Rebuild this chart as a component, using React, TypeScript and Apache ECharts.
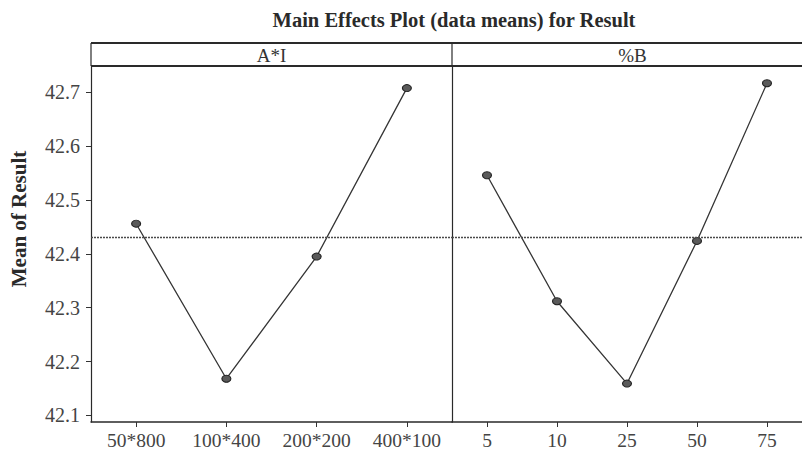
import React, { useEffect, useRef } from "react";
import * as echarts from "echarts";

const catsAI = ["50*800", "100*400", "200*200", "400*100"];
const meansAI = [42.456, 42.168, 42.395, 42.708];
const catsB = ["5", "10", "25", "50", "75"];
const meansB = [42.546, 42.312, 42.159, 42.424, 42.717];
const yTicks = [42.1, 42.2, 42.3, 42.4, 42.5, 42.6, 42.7];
const grandMean = 42.432;
const panelTitles = ["A*I", "%B"];
const chartTitle = "Main Effects Plot (data means) for Result";
const yName = "Mean of Result";

const SERIF = "'Liberation Serif', 'Times New Roman', serif";

export default function App() {
  const ref = useRef<HTMLDivElement>(null);
  useEffect(() => {
    if (!ref.current) return;
    const chart = echarts.init(ref.current, null, { renderer: "svg" });
    const gTop = 66;
    const gBottom = 35;
    const leftL = 91;
    const panelW = 361;
    const leftR = leftL + panelW;
    const stripTop = 43;

    const xAxisCommon = (data: string[], gridIndex: number) => ({
      type: "category",
      gridIndex,
      data,
      boundaryGap: true,
      axisLine: { show: true, lineStyle: { color: "#2a2a2a", width: 1.5 } },
      axisTick: { show: true, alignWithLabel: true, length: 5, lineStyle: { color: "#333" } },
      axisLabel: { color: "#444", fontFamily: SERIF, fontSize: 19.5, margin: 8 },
      splitLine: { show: false },
    });
    const yMin = 42.0876;
    const yMax = 42.749;

    const series = (data: number[], idx: number) => ({
      type: "line",
      xAxisIndex: idx,
      yAxisIndex: idx,
      data,
      symbol: "circle",
      symbolSize: [9, 7],
      itemStyle: { color: "#5a5a5a", borderColor: "#222", borderWidth: 1 },
      lineStyle: { color: "#353535", width: 1.3 },
      markLine: {
        silent: true,
        symbol: "none",
        label: { show: false },
        lineStyle: { color: "#4a4a4a", type: [2, 1], width: 1.3 },
        data: [{ yAxis: grandMean }],
      },
    });

    chart.setOption({
      animation: false,
      backgroundColor: "#ffffff",
      grid: [
        { left: leftL, top: gTop, width: panelW, bottom: gBottom },
        { left: leftR, top: gTop, width: panelW, bottom: gBottom },
      ],
      xAxis: [xAxisCommon(catsAI, 0), xAxisCommon(catsB, 1)],
      yAxis: [
        {
          type: "value",
          gridIndex: 0,
          min: yMin,
          max: yMax,
          axisLine: { show: true, lineStyle: { color: "#2a2a2a", width: 1.2 } },
          axisTick: { show: true, length: 5, customValues: yTicks, lineStyle: { color: "#333" } },
          axisLabel: {
            color: "#444",
            fontFamily: SERIF,
            fontSize: 20,
            margin: 11,
            customValues: yTicks,
            formatter: (v: number) => v.toFixed(1),
          },
          splitLine: { show: false },
        },
        {
          type: "value",
          gridIndex: 1,
          min: yMin,
          max: yMax,
          axisLine: { show: true, lineStyle: { color: "#2a2a2a", width: 1.2 } },
          axisTick: { show: false },
          axisLabel: { show: false },
          splitLine: { show: false },
        },
      ],
      series: [series(meansAI, 0), series(meansB, 1)],
      graphic: [
        {
          type: "text",
          x: 454,
          y: 20,
          style: {
            text: chartTitle,
            font: `bold 20.5px ${SERIF}`,
            fill: "#2a2a2a",
            textAlign: "center",
            textVerticalAlign: "middle",
          },
        },
        {
          type: "text",
          x: 19,
          y: 219,
          rotation: Math.PI / 2,
          style: {
            text: yName,
            font: `bold 21px ${SERIF}`,
            fill: "#2a2a2a",
            textAlign: "center",
            textVerticalAlign: "middle",
          },
        },
        {
          type: "line",
          shape: { x1: leftL, y1: stripTop, x2: 802, y2: stripTop },
          style: { stroke: "#2a2a2a", lineWidth: 1.8 },
        },
        {
          type: "line",
          shape: { x1: leftL, y1: gTop, x2: 802, y2: gTop },
          style: { stroke: "#2a2a2a", lineWidth: 1.8 },
        },
        {
          type: "line",
          shape: { x1: leftL, y1: stripTop, x2: leftL, y2: gTop },
          style: { stroke: "#2a2a2a", lineWidth: 1.2 },
        },
        {
          type: "line",
          shape: { x1: leftR, y1: stripTop, x2: leftR, y2: gTop },
          style: { stroke: "#2a2a2a", lineWidth: 1.2 },
        },
        {
          type: "text",
          x: leftL + panelW / 2,
          y: (stripTop + gTop) / 2 + 1,
          style: {
            text: panelTitles[0],
            font: `19px ${SERIF}`,
            fill: "#333",
            textAlign: "center",
            textVerticalAlign: "middle",
          },
        },
        {
          type: "text",
          x: leftR + panelW / 2,
          y: (stripTop + gTop) / 2 + 1,
          style: {
            text: panelTitles[1],
            font: `19px ${SERIF}`,
            fill: "#333",
            textAlign: "center",
            textVerticalAlign: "middle",
          },
        },
      ],
    });
    return () => chart.dispose();
  }, []);
  return (
    <div
      ref={ref}
      style={{ position: "fixed", left: 0, top: 0, width: 802, height: 457, background: "#fff" }}
    />
  );
}
